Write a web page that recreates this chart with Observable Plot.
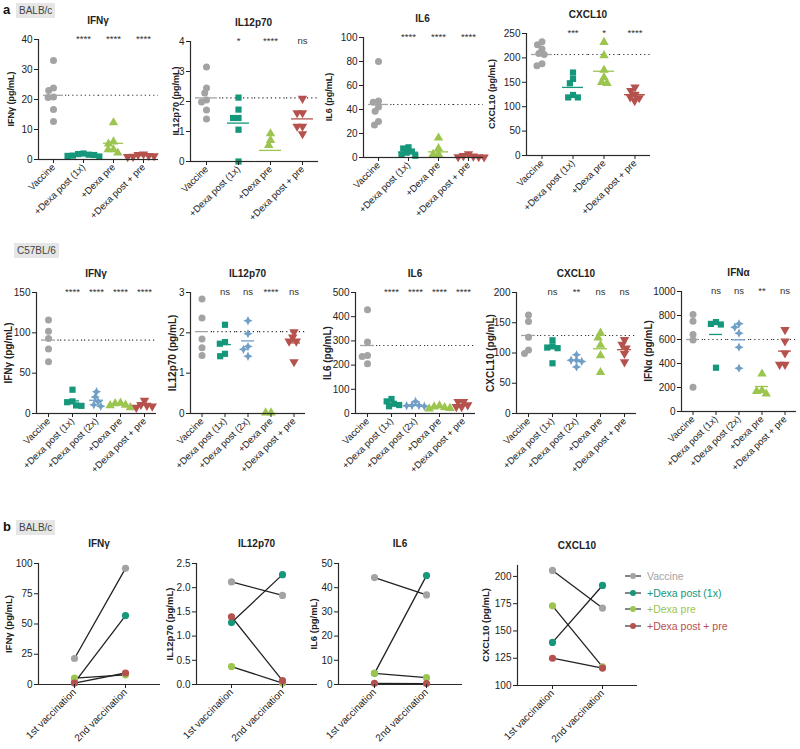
<!DOCTYPE html>
<html><head><meta charset="utf-8">
<script src="https://cdn.jsdelivr.net/npm/d3@7"></script>
<script src="https://cdn.jsdelivr.net/npm/@observablehq/plot@0.6"></script>
<style>
body{margin:0;background:#fff;font-family:Arial,"Liberation Sans",Helvetica,sans-serif;}
#root{position:relative;width:800px;height:749px;overflow:hidden;background:#fff;}
#root > div{position:absolute;}
.title{font-weight:bold;font-size:10px;color:#222;transform:translate(-50%,-50%);white-space:nowrap;}
.ylab{font-weight:bold;color:#222;transform:translate(-50%,-50%) rotate(-90deg);white-space:nowrap;}
.panel{font-weight:bold;font-size:13px;color:#111;}
.tag{background:#e6e6e6;font-size:10px;color:#444;padding:1px 3px;line-height:13px;}
.leg{font-size:10.5px;white-space:nowrap;display:flex;align-items:center;}
</style></head>
<body><div id="root"></div>
<script>
// ---------------- data ----------------
const allGroups = ["Vaccine", "+Dexa post (1x)", "+Dexa post (2x)", "+Dexa pre", "+Dexa post + pre"];
const balbGroups = ["Vaccine", "+Dexa post (1x)", "+Dexa pre", "+Dexa post + pre"];
const c57Groups = ["Vaccine", "+Dexa post (1x)", "+Dexa post (2x)", "+Dexa pre", "+Dexa post + pre"];

// panel a, BALB/c
const balbIFNg = [[33, 23.8, 23, 20.8, 20.7, 16.7, 12.7], [2.0, 1.8, 1.6, 1.5, 1.3, 1.2, 1.0], [12.3, 5.9, 5.2, 3.3, 3.3, 2.2], [1.8, 1.6, 1.3, 1.2, 1.0, 0.9]];
const balbIFNgMean = [21.4, 1.5, 5.4, 1.3];
const balbIFNgSig = ["", "****", "****", "****"];
const balbIL12 = [[3.15, 2.45, 2.28, 2.05, 1.98, 1.72, 1.42], [2.13, 1.73, 1.45, 1.45, 1.06, 0.0], [0.93, 0.71, 0.54], [2.1, 1.62, 1.62, 1.17, 1.17, 0.92]];
const balbIL12Mean = [2.12, 1.28, 0.37, 1.42];
const balbIL12Sig = ["", "*", "****", "ns"];
const balbIL6 = [[80, 47, 46, 42, 38.5, 30, 27], [8.5, 7.5, 5, 4, 2.5, 1.5], [16.4, 7.5, 2.7, 2.7], [3, 1.5, 1, 0.5, 0.5, 0.3]];
const balbIL6Mean = [44.2, 4.4, 4.7, 1.2];
const balbIL6Sig = ["", "****", "****", "****"];
const balbCXCL10 = [[233, 227, 218, 209, 207, 188, 184], [170, 157, 148, 124, 119, 119], [232, 205, 175, 160, 150, 148], [140, 133, 125, 120, 118, 112]];
const balbCXCL10Mean = [207, 139.5, 172.7, 124.7];
const balbCXCL10Sig = ["", "***", "*", "****"];

// panel a, C57BL/6
const c57IFNg = [[116, 102, 93, 80, 64], [29.5, 15, 14, 10, 9.5], [27, 20.5, 14.8, 10.7, 9], [13, 12.5, 10.5, 10, 7.5], [16, 11, 10, 9, 7.5]];
const c57IFNgMean = [91, 15.6, 16.4, 10.7, 10.7];
const c57IFNgSig = ["", "****", "****", "****", "****"];
const c57IL12 = [[2.84, 2.37, 1.85, 1.63, 1.44], [2.2, 1.77, 1.73, 1.48, 1.42], [2.3, 1.98, 1.66, 1.59, 1.42], [0.02, 0.02], [2.02, 1.89, 1.79, 1.79, 1.28]];
const c57IL12Mean = [2.03, 1.71, 1.8, 0.0, 1.75];
const c57IL12Sig = ["", "ns", "ns", "****", "ns"];
const c57IL6 = [[429, 295, 240, 236, 206], [60, 50, 40, 35, 30], [50, 33, 33, 32, 30], [32, 28, 25, 22, 20], [49, 49, 35, 28, 28]];
const c57IL6Mean = [281, 43, 35.6, 25.4, 37.8];
const c57IL6Sig = ["", "****", "****", "****", "****"];
const c57CXCL10 = [[163, 152, 126, 105, 99], [121, 111, 109, 108, 83], [97, 88, 88, 86, 77], [133, 125, 113, 96, 68], [122, 114, 108, 99, 85]];
const c57CXCL10Mean = [129, 108, 88, 107, 105.5];
const c57CXCL10Sig = ["", "ns", "**", "ns", "ns"];
const c57IFNa = [[808, 753, 642, 595, 203], [745, 730, 725, 365], [731, 703, 653, 536, 361], [314, 175, 169, 147], [681, 586, 486, 392, 392]];
const c57IFNaMean = [600, 642, 597, 208, 503];
const c57IFNaSig = ["", "ns", "ns", "**", "ns"];

// panel b, BALB/c
const vaccinations = ["1st vaccination", "2nd vaccination"];
const bGroups = ["Vaccine", "+Dexa post (1x)", "+Dexa pre", "+Dexa post + pre"];
const bIFNg = [[21.5, 96], [1.5, 57], [5.2, 8], [1.2, 9.5]];
const bIL12 = [[2.12, 1.84], [1.28, 2.27], [0.37, 0.03], [1.40, 0.08]];
const bIL6 = [[44.2, 37], [4.6, 45], [4.6, 2.8], [0.5, 0.4]];
const bCXCL10 = [[205.5, 171], [139.5, 191.7], [173, 117], [125, 116]];

// ---------------- styling ----------------
const FONT = 'Arial, "Liberation Sans", Helvetica, sans-serif';
const AX = "#2a2a2a";
const allColors = ["#a3a3a3", "#14977a", "#6f9ec6", "#9cc54f", "#b5524d"];
const symTriDown = {draw(ctx, size) {
  const y = -Math.sqrt(size / (Math.sqrt(3) * 3));
  ctx.moveTo(0, -y * 2); ctx.lineTo(-Math.sqrt(3) * y, y); ctx.lineTo(Math.sqrt(3) * y, y); ctx.closePath();
}};
const symStar4 = {draw(ctx, size) {
  const r = Math.sqrt(size) * 0.75, k = r * 0.32;
  ctx.moveTo(0, -r); ctx.lineTo(k, -k); ctx.lineTo(r, 0); ctx.lineTo(k, k);
  ctx.lineTo(0, r); ctx.lineTo(-k, k); ctx.lineTo(-r, 0); ctx.lineTo(-k, -k); ctx.closePath();
}};
const allSymbols = [d3.symbolCircle, d3.symbolSquare, symStar4, d3.symbolTriangle, symTriDown];

const root = document.getElementById("root");
function place(el, x, y) { const d = document.createElement("div"); d.style.left = x + "px"; d.style.top = y + "px"; d.appendChild(el); root.appendChild(d); return d; }
function textDiv(txt, x, y, cls, fs) {
  const d = document.createElement("div"); d.className = cls; d.textContent = txt;
  d.style.left = x + "px"; d.style.top = y + "px"; if (fs) d.style.fontSize = fs + "px";
  root.appendChild(d); return d;
}
const plotStyle = {background: "transparent", overflow: "visible", fontFamily: FONT, fontSize: "10px", color: "#222", maxWidth: "none"};
const plainFmt = d => String(d);

function scatterPanel(c, L) {
  const ML = 45, MR = 15, MT = 20, MB = 95;
  const fw = L.x1 - L.x0, fh = L.y1 - L.y0;
  const bw = fw / c.groups.length;
  const pts = c.values.flatMap((arr, i) => arr.map(v => ({g: c.groups[i], v})));
  const means = c.means.map((v, i) => ({g: c.groups[i], v}));
  const sig = c.sig.map((s, i) => ({g: c.groups[i], s})).filter(d => d.s);
  const ref = c.means[0];
  const top = c.domain[1];
  const svg = Plot.plot({
    width: ML + fw + MR, height: MT + fh + MB,
    marginLeft: ML, marginRight: MR, marginTop: MT, marginBottom: MB,
    style: plotStyle,
    fx: {domain: c.groups, padding: 0},
    x: {domain: [0, 1], axis: null},
    y: {domain: c.domain},
    color: {domain: allGroups, range: allColors},
    symbol: {domain: allGroups, range: allSymbols},
    marks: [
      Plot.ruleY(c.groups.slice(1).map(g => ({g, v: ref})), {fx: "g", y: "v", stroke: "#333", strokeWidth: 1.1, strokeDasharray: "1.2,3"}),
      Plot.ruleY([{g: c.groups[0], v: ref}], {fx: "g", y: "v", stroke: "#333", strokeWidth: 1.1, strokeDasharray: "1.2,3", insetLeft: bw - L.mi + 2}),
      Plot.tickY(means, {fx: "g", y: "v", stroke: "g", strokeWidth: 1.3, insetLeft: L.mi, insetRight: L.mi}),
      Plot.dot(pts, Plot.dodgeX({anchor: "middle", padding: -1.6}, {fx: "g", y: "v", r: 3.5, fill: "g", symbol: "g"})),
      Plot.text(sig, {fx: "g", y: () => top, text: "s", fontSize: 9.5, fill: "#333", dy: -1}),
      Plot.ruleY([c.domain[0]], {stroke: AX, strokeWidth: 1.2}),
      Plot.ruleX([c.groups[0]], {fx: d => d, x: () => 0, stroke: AX, strokeWidth: 1.2}),
      Plot.axisY({ticks: c.ticks, tickFormat: c.fmt || plainFmt, tickSize: 4, tickPadding: 2, label: null, fontSize: 10, facetAnchor: "left"}),
      Plot.axisFx({anchor: "bottom", tickRotate: -45, tickSize: 4, tickPadding: 2, label: null, fontSize: L.xf})
    ]
  });
  place(svg, L.x0 - ML, L.y0 - MT);
  textDiv(c.title, (L.x0 + L.x1) / 2, L.y0 - 19, "title");
  textDiv(c.ylabel, L.lx, (L.y0 + L.y1) / 2, "ylab", L.lf);
}

function linePanel(c, L) {
  const ML = 45, MR = 15, MT = 20, MB = 95;
  const fw = L.x1 - L.x0, fh = L.y1 - L.y0;
  const rows = c.values.flatMap((pair, i) => pair.map((v, j) => ({g: bGroups[i], t: vaccinations[j], v})));
  const svg = Plot.plot({
    width: ML + fw + MR, height: MT + fh + MB,
    marginLeft: ML, marginRight: MR, marginTop: MT, marginBottom: MB,
    style: plotStyle,
    x: {domain: vaccinations, type: "point", padding: 0.68},
    y: {domain: c.domain},
    color: {domain: allGroups, range: allColors},
    marks: [
      Plot.frame({anchor: "left", stroke: AX, strokeWidth: 1.2}),
      Plot.ruleY([c.domain[0]], {stroke: AX, strokeWidth: 1.2}),
      Plot.line(rows, {x: "t", y: "v", z: "g", stroke: "#222", strokeWidth: 1.3}),
      Plot.dot(rows, {x: "t", y: "v", fill: "g", r: 3.6}),
      Plot.axisY({ticks: c.ticks, tickFormat: c.fmt || plainFmt, tickSize: 4, tickPadding: 2, label: null, fontSize: 10}),
      Plot.axisX({tickRotate: -45, tickSize: 4, tickPadding: 2, label: null, fontSize: 10})
    ]
  });
  place(svg, L.x0 - ML, L.y0 - MT);
  textDiv(c.title, (L.x0 + L.x1) / 2, L.y0 - 20, "title");
  textDiv(c.ylabel, L.lx, (L.y0 + L.y1) / 2, "ylab", 9.5);
}

// ---------------- panel labels ----------------
textDiv("a", 3, 2, "panel");
textDiv("BALB/c", 16, 3, "tag");
textDiv("C57BL/6", 14, 243, "tag");
textDiv("b", 3, 519, "panel");
textDiv("BALB/c", 16, 520, "tag");

// ---------------- row 1: BALB/c ----------------
scatterPanel({groups: balbGroups, values: balbIFNg, means: balbIFNgMean, sig: balbIFNgSig, domain: [0, 40], ticks: [0, 10, 20, 30, 40], title: "IFNγ", ylabel: "IFNγ (pg/mL)"},
  {x0: 38, x1: 158, y0: 39, y1: 159, mi: 5, xf: 9.5, lx: 11, lf: 9});
scatterPanel({groups: balbGroups, values: balbIL12, means: balbIL12Mean, sig: balbIL12Sig, domain: [0, 4], ticks: [0, 1, 2, 3, 4], title: "IL12p70", ylabel: "IL12p70 (pg/mL)"},
  {x0: 189, x1: 318, y0: 41, y1: 161, mi: 5, xf: 9.5, lx: 176, lf: 9});
scatterPanel({groups: balbGroups, values: balbIL6, means: balbIL6Mean, sig: balbIL6Sig, domain: [0, 100], ticks: [0, 20, 40, 60, 80, 100], title: "IL6", ylabel: "IL6 (pg/mL)"},
  {x0: 362, x1: 483, y0: 37, y1: 157, mi: 5, xf: 9.5, lx: 329, lf: 9});
scatterPanel({groups: balbGroups, values: balbCXCL10, means: balbCXCL10Mean, sig: balbCXCL10Sig, domain: [0, 250], ticks: [0, 50, 100, 150, 200, 250], title: "CXCL10", ylabel: "CXCL10 (pg/mL)"},
  {x0: 526, x1: 650, y0: 33, y1: 155, mi: 5, xf: 9.5, lx: 492, lf: 9});

// ---------------- row 2: C57BL/6 ----------------
scatterPanel({groups: c57Groups, values: c57IFNg, means: c57IFNgMean, sig: c57IFNgSig, domain: [0, 150], ticks: [0, 50, 100, 150], title: "IFNγ", ylabel: "IFNγ (pg/mL)"},
  {x0: 35, x1: 157, y0: 292, y1: 413, mi: 5, xf: 9.5, lx: 8, lf: 10});
scatterPanel({groups: c57Groups, values: c57IL12, means: c57IL12Mean, sig: c57IL12Sig, domain: [0, 3], ticks: [0, 1, 2, 3], title: "IL12p70", ylabel: "IL12p70 (pg/mL)"},
  {x0: 188, x1: 307, y0: 292, y1: 413, mi: 5, xf: 9.5, lx: 172, lf: 10});
scatterPanel({groups: c57Groups, values: c57IL6, means: c57IL6Mean, sig: c57IL6Sig, domain: [0, 500], ticks: [0, 100, 200, 300, 400, 500], title: "IL6", ylabel: "IL6 (pg/mL)"},
  {x0: 355, x1: 475, y0: 292, y1: 413, mi: 5, xf: 9.5, lx: 327, lf: 10});
scatterPanel({groups: c57Groups, values: c57CXCL10, means: c57CXCL10Mean, sig: c57CXCL10Sig, domain: [0, 200], ticks: [0, 50, 100, 150, 200], title: "CXCL10", ylabel: "CXCL10 (pg/mL)"},
  {x0: 516, x1: 636, y0: 292, y1: 413, mi: 5, xf: 9.5, lx: 490, lf: 10});
scatterPanel({groups: c57Groups, values: c57IFNa, means: c57IFNaMean, sig: c57IFNaSig, domain: [0, 1000], ticks: [0, 200, 400, 600, 800, 1000], title: "IFNα", ylabel: "IFNα (pg/mL)"},
  {x0: 679, x1: 798, y0: 291, y1: 411, mi: 5, xf: 9.5, lx: 648, lf: 10});

// ---------------- panel b ----------------
linePanel({values: bIFNg, domain: [0, 100], ticks: [0, 25, 50, 75, 100], title: "IFNγ", ylabel: "IFNγ (pg/mL)"},
  {x0: 38, x1: 160, y0: 563, y1: 684, lx: 8});
linePanel({values: bIL12, domain: [0, 2.5], ticks: [0, 0.5, 1, 1.5, 2, 2.5], fmt: d3.format(".1f"), title: "IL12p70", ylabel: "IL12p70 (pg/mL)"},
  {x0: 196, x1: 317, y0: 563, y1: 684, lx: 169});
linePanel({values: bIL6, domain: [0, 50], ticks: [0, 10, 20, 30, 40, 50], title: "IL6", ylabel: "IL6 (pg/mL)"},
  {x0: 338, x1: 462, y0: 563, y1: 684, lx: 313});
linePanel({values: bCXCL10, domain: [100, 210], ticks: [100, 125, 150, 175, 200], title: "CXCL10", ylabel: "CXCL10 (pg/mL)"},
  {x0: 517, x1: 637, y0: 565, y1: 685, lx: 485});

// ---------------- legend (panel b) ----------------
bGroups.forEach((g, i) => {
  const col = allColors[allGroups.indexOf(g)];
  const d = document.createElement("div"); d.className = "leg";
  d.style.left = "624px"; d.style.top = (570 + i * 16.7) + "px"; d.style.color = col;
  d.innerHTML = `<svg width="18" height="10" style="margin-right:5px"><line x1="1" y1="5" x2="17" y2="5" stroke="#333" stroke-width="1.2"/><circle cx="9" cy="5" r="3" fill="${col}"/></svg>`;
  d.appendChild(document.createTextNode(g));
  root.appendChild(d);
});
</script>
</body></html>
